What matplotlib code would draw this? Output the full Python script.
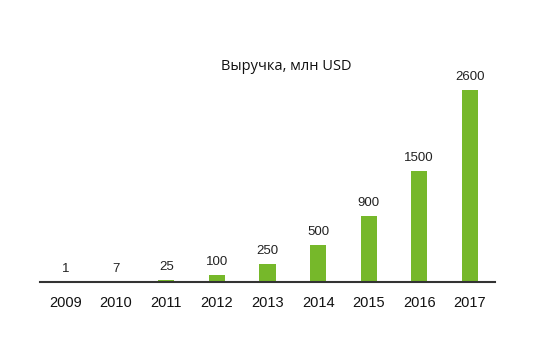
import matplotlib.pyplot as plt

years = ['2009', '2010', '2011', '2012', '2013', '2014', '2015', '2016', '2017']
revenue = [1, 7, 25, 100, 250, 500, 900, 1500, 2600]

green = '#76b82a'

fig = plt.figure(figsize=(5.55, 3.5), dpi=100)
ax = fig.add_axes([0.072, 0.194, 0.82, 0.633])

x = list(range(len(years)))
ax.bar(x, revenue, width=0.32, color=green, zorder=2)

# value labels above every bar
for xi, v in zip(x, revenue):
    ax.annotate(str(v), (xi, v), xytext=(0, 5), textcoords='offset points',
                ha='center', va='bottom', fontsize=9.5, color='#222222',
                family='Liberation Sans')

ax.set_xlim(-0.5, 8.5)
ax.set_ylim(0, 3000)
ax.set_xticks(x)
ax.set_xticklabels(years, fontsize=10.5, family='Liberation Sans', color='#111111')
ax.tick_params(axis='x', length=0, pad=10)
ax.set_yticks([])

for s in ['top', 'right', 'left']:
    ax.spines[s].set_visible(False)
ax.spines['bottom'].set_color('#333333')
ax.spines['bottom'].set_linewidth(1.5)

fig.text(0.515, 0.81, 'Выручка, млн USD', ha='center', va='center',
         fontsize=10.5, family='Open Sans', color='#111111')

fig.savefig('out.png', dpi=100)
